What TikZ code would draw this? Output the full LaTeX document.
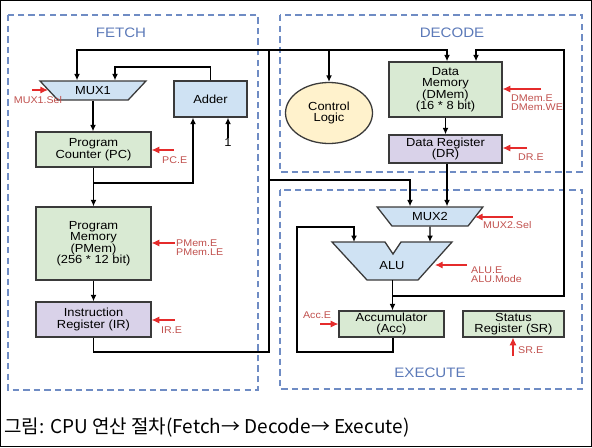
\documentclass[tikz,border=0pt]{standalone}
\usepackage{fontspec}
\setmainfont{Liberation Sans}[FakeStretch=1.1]
\newfontfamily\krfont{Noto Sans CJK KR}
\usetikzlibrary{arrows.meta,shapes.geometric}
\definecolor{edgegray}{HTML}{3A3A3A}
\definecolor{memgreen}{HTML}{D9EAD3}
\definecolor{reglilac}{HTML}{D9D2E9}
\definecolor{muxblue}{HTML}{CFE2F3}
\definecolor{ctrlyellow}{HTML}{FFF2CC}
\definecolor{stageblue}{HTML}{6F8CC4}
\definecolor{stagetext}{HTML}{5B79B8}
\definecolor{sigred}{HTML}{E52B2B}
\definecolor{sigtext}{HTML}{C0504D}
\def\pxu{0.03cm}
\begin{document}
\begin{tikzpicture}[x=0.03cm,y=-0.03cm,>={Latex[length=5.5pt,width=5pt]},
  blk/.style={draw=edgegray,line width=1.1pt,align=center,inner sep=0pt,font=\fontsize{10}{9.7}\selectfont},
  grnbox/.style={blk,fill=memgreen},
  purbox/.style={blk,fill=reglilac},
  bluebox/.style={blk,fill=muxblue},
  mux/.style={blk,fill=muxblue,trapezium,shape border rotate=180,trapezium stretches=true,minimum height=19*\pxu},
  wire/.style={draw=black,line width=1.1pt},
  ctl/.style={draw=sigred,line width=0.9pt,-{Latex[length=6.5pt,width=6pt]}},
  sig/.style={text=sigtext,inner sep=0pt,align=left,font=\fontsize{8.3}{8}\selectfont},
  stage/.style={draw=stageblue,line width=1.2pt,dash pattern=on 5.5pt off 3.5pt},
  stagelbl/.style={text=stagetext,inner sep=0pt,font=\fontsize{11.7}{12}\selectfont}]
\useasboundingbox (0,0) rectangle (592,447);
\draw[black,line width=0.8pt] (0.5,0.5) rectangle (591.5,446.5);
% stages
\draw[stage] (8,15) rectangle (258,390);
\draw[stage] (280,15) rectangle (582,172);
\draw[stage] (280,190) rectangle (582,389);
\node[stagelbl] (fetch) at (121,33) {FETCH};
\node[stagelbl] (decode) at (452,33) {DECODE};
\node[stagelbl] (execute) at (430,373) {EXECUTE};
% fetch
\node[mux,trapezium angle=42,minimum width=106*\pxu] (mux1) at (93,90.5) {MUX1};
\node[bluebox,minimum width=73*\pxu,minimum height=36*\pxu] (adder) at (210.5,99) {Adder};
\node[grnbox,minimum width=115*\pxu,minimum height=35*\pxu] (pc) at (93.5,149.5) {Program\\Counter (PC)};
\node[grnbox,minimum width=115*\pxu,minimum height=73*\pxu] (pmem) at (93.5,243.5) {Program\\Memory\\(PMem)\\(256 * 12 bit)};
\node[purbox,minimum width=115*\pxu,minimum height=35*\pxu] (ir) at (93.5,319.5) {Instruction\\Register (IR)};
\node[inner sep=0pt,font=\fontsize{10}{10}\selectfont] (one) at (228,142) {1};
% decode
\node[blk,ellipse,fill=ctrlyellow,minimum width=87*\pxu,minimum height=61*\pxu] (ctrl) at (329,113) {Control\\Logic};
\node[grnbox,minimum width=113*\pxu,minimum height=55*\pxu] (dmem) at (445.5,89.5) {Data\\Memory\\(DMem)\\(16 * 8 bit)};
\node[purbox,minimum width=113*\pxu,minimum height=28*\pxu] (dr) at (445.5,149) {Data Register\\(DR)};
% execute
\node[mux,trapezium angle=50,minimum width=106*\pxu] (mux2) at (430,216.5) {MUX2};
\draw[blk,fill=muxblue] (332,242) -- (385,242) -- (393,254) -- (401,242) -- (452,242) -- (418,280) -- (367,280) -- cycle;
\node[inner sep=0pt,font=\fontsize{10}{10}\selectfont] (alu) at (392,266) {ALU};
\node[grnbox,minimum width=105*\pxu,minimum height=26*\pxu] (acc) at (391.5,324) {Accumulator\\(Acc)};
\node[grnbox,minimum width=101*\pxu,minimum height=26*\pxu] (sr) at (513.5,324) {Status\\Register (SR)};
\coordinate (alua) at (354,242); \coordinate (alub) at (430,242); \coordinate (aluout) at (392.5,280);
% wires
\coordinate (pcfork) at (93.5,183); \coordinate (addret) at (115,67);
\coordinate (busbot) at (269,352); \coordinate (bustop) at (269,50); \coordinate (busmid) at (269,180);
\coordinate (alufork) at (392.5,296); \coordinate (dmret) at (564,50);
\coordinate (accloop) at (297,352); \coordinate (aluain) at (354,227);
\draw[wire,->] (mux1.south) -- (mux1.south |- pc.north);
\draw[wire,->] (pc) -- (pmem); \draw[wire,->] (pmem) -- (ir);
\draw[wire,->] (pcfork) -| ([xshift=-17.5*\pxu]adder.south);
\draw[wire,->] (one) -- (one |- adder.south);
\draw[wire,->] (adder.north) |- (addret) -- (addret |- mux1.north);
\draw[wire] (ir.south) |- (busbot) -- (bustop);
\draw[wire,->] (bustop) -| ([xshift=-16*\pxu]mux1.north);
\draw[wire,->] (bustop) -| ([xshift=1.5*\pxu]dmem.north);
\draw[wire,->] (ctrl.north |- bustop) -- (ctrl);
\draw[wire,->] (dmem) -- (dr);
\draw[wire,->] (busmid) -| ([xshift=-20*\pxu]mux2.north);
\draw[wire,->] ([xshift=1.5*\pxu]dr.south) -- ([xshift=1.5*\pxu]dr.south |- mux2.north);
\draw[wire,->] (mux2.south) -- (alub);
\draw[wire,->] (aluout) -- (aluout |- acc.north);
\draw[wire,->] (alufork) -| (dmret) -| ([xshift=30.5*\pxu]dmem.north);
\draw[wire,->] ([xshift=1.5*\pxu]acc.south) |- (accloop) |- (aluain) -- (alua);
% control signals
\coordinate (muxsel) at (32,90); \coordinate (pce) at (174,150); \coordinate (pmeme) at (175,243);
\coordinate (ire) at (175,320); \coordinate (dmeme) at (541,89); \coordinate (dre) at (527,148);
\coordinate (mux2sel) at (513,217); \coordinate (alue) at (467,265); \coordinate (acce) at (320,324);
\coordinate (sre) at (513,356);
\draw[ctl] (muxsel) -- ++(16,0);
\draw[ctl] (pce) -- (pce -| pc.east);
\draw[ctl] (pmeme) -- (pmeme -| pmem.east);
\draw[ctl] (ire) -- (ire -| ir.east);
\draw[ctl] (dmeme) -- (dmeme -| dmem.east);
\draw[ctl] (dre) -- (dre -| dr.east);
\draw[ctl] (mux2sel) -- ++(-38,0);
\draw[ctl] (alue) -- ++(-32,0);
\draw[ctl] (acce) -- (acce -| acc.west);
\draw[ctl] (sre) -- (sre |- sr.south);
\node[sig] (muxsellbl) at (38,100) {MUX1.Sel};
\node[sig,anchor=west] (pcelbl) at (162,160) {PC.E};
\node[sig,anchor=west] (pmemlbl) at (176,247.5) {PMem.E\\PMem.LE};
\node[sig,anchor=west] (irelbl) at (161,330) {IR.E};
\node[sig,anchor=west] (dmemlbl) at (511,102.5) {DMem.E\\DMem.WE};
\node[sig,anchor=west] (drelbl) at (518,157) {DR.E};
\node[sig,anchor=west] (mux2lbl) at (483,225) {MUX2.Sel};
\node[sig,anchor=west] (alulbl) at (471,275) {ALU.E\\ALU.Mode};
\node[sig] (accelbl) at (317,315) {Acc.E};
\node[sig,anchor=west] (srelbl) at (518,350) {SR.E};
% caption
\node[anchor=west,inner sep=0pt,font=\krfont\fontsize{16.2}{19}\selectfont] (caption) at (4,428) {그림: CPU 연산 절차(Fetch→ Decode→ Execute)};
\end{tikzpicture}
\end{document}
